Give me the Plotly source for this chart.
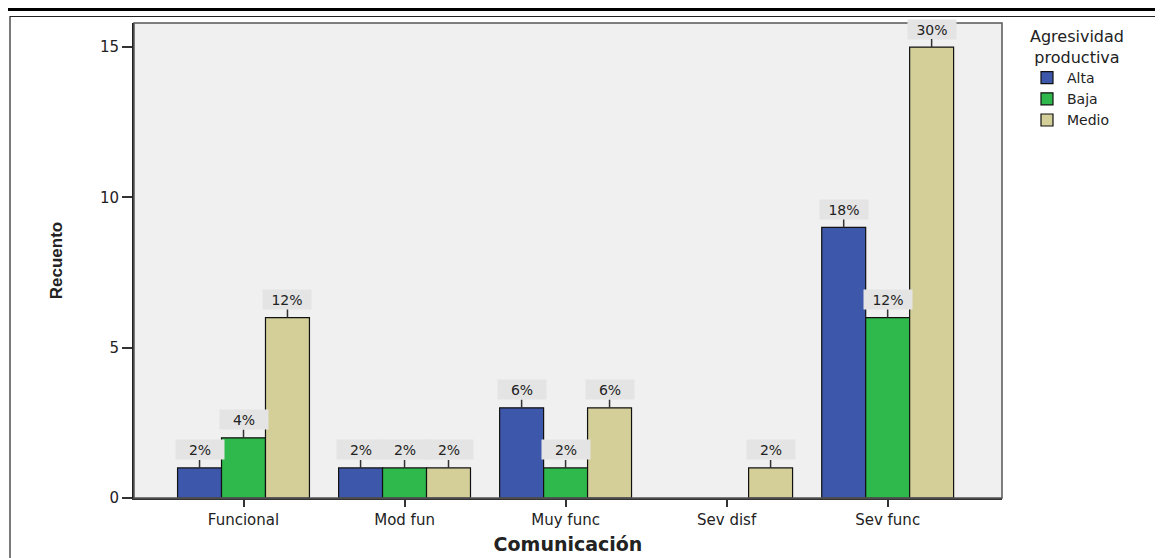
import plotly.graph_objects as go

categories = ["Funcional", "Mod fun", "Muy func", "Sev disf", "Sev func"]
series_names = ["Alta", "Baja", "Medio"]
alta = [1, 1, 3, None, 9]
baja = [2, 1, 1, None, 6]
medio = [6, 1, 3, 1, 15]
alta_pct = ["2%", "2%", "6%", None, "18%"]
baja_pct = ["4%", "2%", "2%", None, "12%"]
medio_pct = ["12%", "2%", "6%", "2%", "30%"]
y_ticks = [0, 5, 10, 15]

colors = ["#3d57aa", "#2fb84b", "#d4cf98"]
values = [alta, baja, medio]
pcts = [alta_pct, baja_pct, medio_pct]

FONT = "DejaVu Sans, Liberation Sans, Arial, sans-serif"
TXT = "#222222"

# page body has an 8px margin; positions below are in viewport pixels
OFF = 8
L, R, T, B = 134, 1002, 23, 498
PW, PH = R - L, B - T


def px(x):
    return (x - L) / PW


def py(y):
    return (B - y) / PH


W = 0.273
fig = go.Figure()
annotations = []
for k, (name, vals, pc, col) in enumerate(zip(series_names, values, pcts, colors)):
    xs = [i + (k - 1) * W for i in range(len(categories))]
    fig.add_trace(go.Bar(
        x=xs, y=vals, width=W, name=name,
        marker=dict(color=col, line=dict(color="#111111", width=1.2)),
    ))
    for x, v, t in zip(xs, vals, pc):
        if v is None or t is None:
            continue
        annotations.append(dict(
            x=x, y=v, xref="x", yref="y", text=t, showarrow=True,
            arrowhead=0, arrowwidth=1.5, arrowcolor="#333333",
            ax=0, ay=-18, standoff=0,
            bgcolor="#e4e4e4", width=46, height=17,
            font=dict(family=FONT, size=14, color=TXT),
        ))

annotations.append(dict(
    x=px(1077), y=py(25), xref="paper", yref="paper", xanchor="center", yanchor="top",
    text="Agresividad<br>productiva", showarrow=False, align="center",
    font=dict(family=FONT, size=16, color=TXT),
))

shapes = [
    dict(type="line", xref="paper", yref="paper", x0=px(-20), x1=px(1200), y0=py(9.6), y1=py(9.6),
         line=dict(color="black", width=3)),
    dict(type="rect", xref="paper", yref="paper", x0=px(10), x1=px(1200), y0=py(600), y1=py(16.5),
         line=dict(color="#222222", width=1.2)),
    dict(type="rect", xref="paper", yref="paper", x0=0, x1=1, y0=0, y1=1,
         line=dict(color="#555555", width=1.5)),
]

fig.update_layout(
    width=1163, height=558,
    margin=dict(l=L - OFF, r=1163 - R + OFF, t=T - OFF, b=558 - B + OFF),
    paper_bgcolor="white", plot_bgcolor="#f0f0f0",
    barmode="overlay",
    showlegend=True,
    legend=dict(x=px(1027), y=py(62), xanchor="left", yanchor="top",
                font=dict(family=FONT, size=14, color=TXT),
                bgcolor="rgba(0,0,0,0)", tracegroupgap=0, itemwidth=30),
    annotations=annotations,
    shapes=shapes,
    font=dict(family=FONT, color=TXT),
)
fig.update_xaxes(
    range=[-0.68, 4.71], tickmode="array",
    tickvals=list(range(len(categories))), ticktext=categories,
    ticks="outside", ticklen=7, tickwidth=2, tickcolor="#333333",
    showline=True, linecolor="#333333", linewidth=1.5, showgrid=False, zeroline=False,
    tickfont=dict(size=15, family=FONT), fixedrange=True,
    title=dict(text="<b>Comunicación</b>", font=dict(size=19, family=FONT), standoff=10),
)
fig.update_yaxes(
    range=[0, 15.8], tickmode="array", tickvals=y_ticks,
    ticks="outside", ticklen=10, tickwidth=1.5, tickcolor="#333333",
    showline=True, linecolor="#222222", linewidth=2, showgrid=False, zeroline=False,
    tickfont=dict(size=15, family=FONT),
    title=dict(text="<b>Recuento</b>", font=dict(size=17, family="Liberation Sans Narrow, Liberation Sans, Arial"), standoff=33),
)
fig.write_html("out.html")
